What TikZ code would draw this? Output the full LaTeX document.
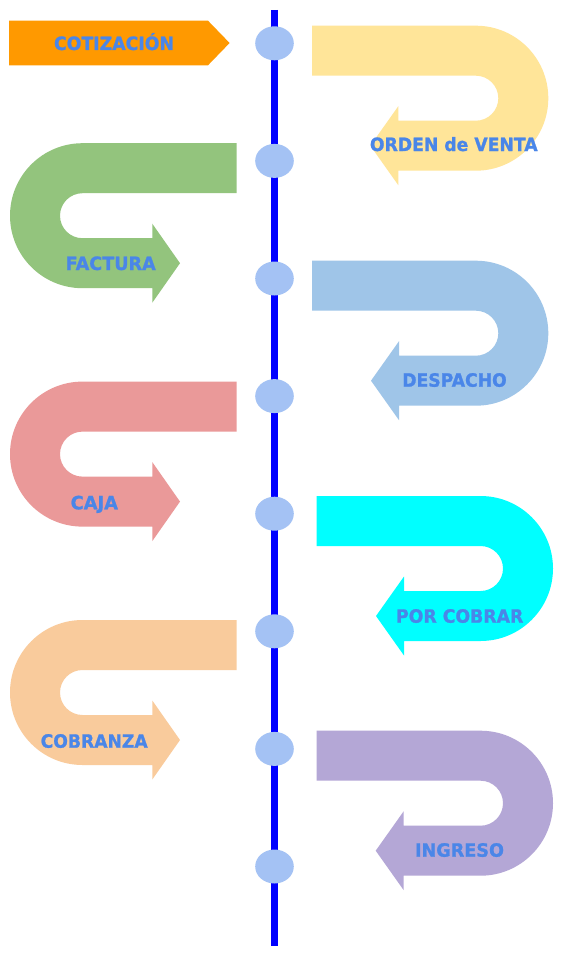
\documentclass[tikz,border=0pt]{standalone}
\usepackage{fontspec}
\setmainfont{DejaVu Sans}[BoldFeatures={FakeBold=1.2}]
\usepackage{graphicx}
\usetikzlibrary{shapes.geometric}
\definecolor{cOrange}{HTML}{FF9900}
\definecolor{cYellow}{HTML}{FFE599}
\definecolor{cGreen}{HTML}{93C47D}
\definecolor{cBlue}{HTML}{9FC5E8}
\definecolor{cRed}{HTML}{EA9999}
\definecolor{cCyan}{HTML}{00FFFF}
\definecolor{cPeach}{HTML}{F9CB9C}
\definecolor{cPurple}{HTML}{B4A7D6}
\definecolor{cDot}{HTML}{A4C2F4}
\definecolor{cLine}{HTML}{0000FF}
\definecolor{cText}{HTML}{4A86E8}
% right U-turn arrow: #1 colour, #2 left x, #3 centre x, #4 centre y, #5 head back x, #6 tip x
\newcommand\rightU[6]{%
  \fill[#1] (#2,#4-72.5) -- (#3,#4-72.5)
    arc[start angle=-90,end angle=90,radius=72.5]
    -- (#5,#4+72.5) -- (#5,#4+87) -- (#6,#4+47.5) -- (#5,#4+8) -- (#5,#4+22.5)
    -- (#3,#4+22.5) arc[start angle=90,end angle=-90,radius=22.5]
    -- (#2,#4-22.5) -- cycle;}
% left U-turn arrow: #1 colour, #2 right x, #3 centre x, #4 centre y, #5 head back x, #6 tip x
\newcommand\leftU[6]{%
  \fill[#1] (#2,#4-72.5) -- (#3,#4-72.5)
    arc[start angle=270,end angle=90,radius=72.5]
    -- (#5,#4+72.5) -- (#5,#4+87) -- (#6,#4+47.5) -- (#5,#4+8) -- (#5,#4+22.5)
    -- (#3,#4+22.5) arc[start angle=90,end angle=270,radius=22.5]
    -- (#2,#4-22.5) -- cycle;}
\begin{document}
\begin{tikzpicture}[x=1pt,y=-1pt,
  dot/.style={ellipse,fill=cDot,minimum width=38.6pt,minimum height=34pt,inner sep=0pt},
  lbl/.style={anchor=base,inner sep=0pt,text=cText,font=\fontsize{18.3}{20}\selectfont\bfseries}]
\useasboundingbox (0,0) rectangle (567,963);
\fill[white] (0,0) rectangle (567,963);
% timeline
\coordinate (top) at (274.5,10);
\coordinate (bot) at (274.5,946);
\draw[cLine,line width=7.6pt] (top) -- (bot);
% COTIZACION
\fill[cOrange] (9,20.7) -- (208,20.7) -- (229.6,43) -- (208,65.3) -- (9,65.3) -- cycle;
% U arrows right
\rightU{cYellow}{312}{475.8}{98.2}{398.3}{370.3}
\rightU{cBlue}{312}{475.8}{333.2}{399}{371}
\rightU{cCyan}{316.7}{480.5}{568.5}{404}{376}
\rightU{cPurple}{316.7}{480.5}{803.2}{403.7}{375.7}
% U arrows left
\leftU{cGreen}{236.5}{82.5}{215.7}{152.3}{180}
\leftU{cRed}{236.5}{82.5}{454.1}{152.3}{180}
\leftU{cPeach}{236.5}{82.5}{692.5}{152.3}{180}
% dots
\foreach \i in {0,...,7} {
  \node[dot] (d\i) at (274.5,43.3+117.6*\i) {};
}
% labels
\node[lbl] (t0) at (114,50) {\resizebox{120pt}{\height}{COTIZACIÓN}};
\node[lbl] (t1) at (453.8,151) {\resizebox{167.7pt}{\height}{ORDEN de VENTA}};
\node[lbl] (t2) at (110.7,270) {\resizebox{90pt}{\height}{FACTURA}};
\node[lbl] (t3) at (454.5,386.7) {\resizebox{104.4pt}{\height}{DESPACHO}};
\node[lbl] (t4) at (94.3,509.3) {\resizebox{47.3pt}{\height}{CAJA}};
\node[lbl] (t5) at (459.7,622.7) {\resizebox{127.3pt}{\height}{POR COBRAR}};
\node[lbl] (t6) at (94.2,747.7) {\resizebox{107pt}{\height}{COBRANZA}};
\node[lbl] (t7) at (459.5,856.7) {\resizebox{89pt}{\height}{INGRESO}};
\end{tikzpicture}
\end{document}
